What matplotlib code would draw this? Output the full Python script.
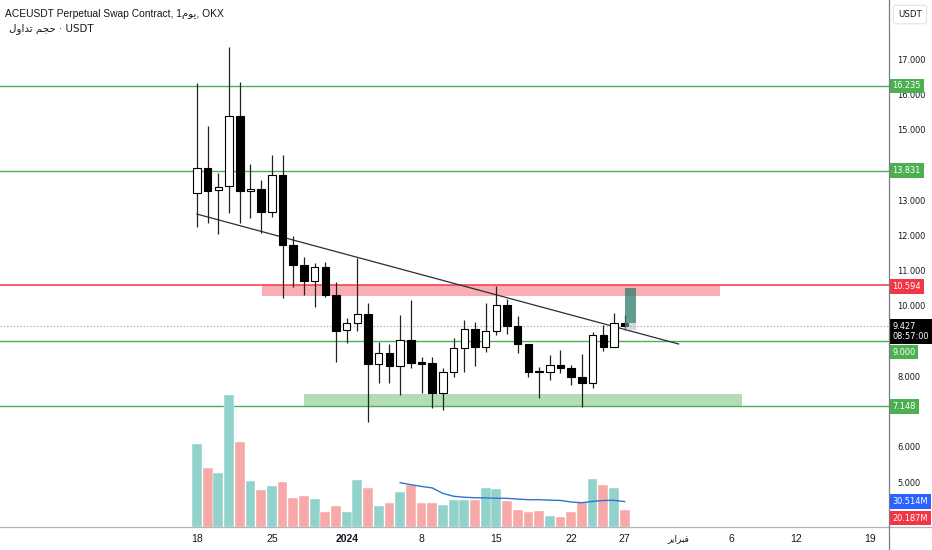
import numpy as np
import matplotlib
matplotlib.use("Agg")
import matplotlib.pyplot as plt
from matplotlib.lines import Line2D
from matplotlib.patches import Rectangle
from matplotlib import font_manager

# pick a narrow face for the price scale, like the TradingView screenshot
names = {(f.name, f.stretch) for f in font_manager.fontManager.ttflist}
fam_names = {n for n, s in names}
if 'Liberation Sans Narrow' in fam_names:
    NARROW = dict(family=['Liberation Sans Narrow', 'DejaVu Sans'], size=7.2)
elif ('DejaVu Sans', 'condensed') in names:
    NARROW = dict(family=['DejaVu Sans'], stretch='condensed', size=6.6)
else:
    NARROW = dict(family=['Liberation Sans', 'DejaVu Sans'], size=6.2)

plt.rcParams['font.family'] = ['Liberation Sans', 'DejaVu Sans']

# daily candles, 18 Dec 2023 -> 27 Jan 2024 (index 0 = 18 Dec)
opens = [13.19, 13.90, 13.28, 13.40, 15.38, 13.26, 13.31, 12.65, 13.71, 11.72,
         11.16, 10.71, 11.09, 10.30, 9.31, 9.52, 9.77, 8.34, 8.67, 8.29,
         9.03, 8.38, 8.37, 7.52, 8.13, 8.81, 9.33, 8.82, 9.28, 10.02,
         9.43, 8.91, 8.13, 8.13, 8.33, 8.23, 7.99, 7.80, 9.17, 8.82, 9.52]
highs = [16.31, 15.10, 13.76, 17.33, 16.36, 14.02, 13.57, 14.28, 14.28, 11.98,
         11.39, 11.20, 11.25, 10.68, 9.64, 11.35, 10.07, 8.98, 8.91, 9.74,
         10.16, 8.54, 8.54, 8.23, 9.08, 9.60, 9.55, 10.07, 10.56, 10.18,
         9.71, 8.91, 8.27, 8.60, 8.74, 8.32, 8.62, 9.26, 9.45, 9.79, 9.74]
lows = [12.24, 12.36, 12.03, 12.62, 12.36, 12.48, 12.06, 12.53, 10.21, 10.54,
        10.30, 9.97, 10.26, 8.41, 8.93, 9.29, 6.71, 7.82, 7.80, 7.47,
        8.23, 7.53, 7.09, 7.04, 7.99, 8.13, 8.30, 8.70, 9.17, 9.19,
        8.67, 7.97, 7.37, 7.89, 8.08, 7.75, 7.14, 7.66, 8.73, 8.82, 9.31]
closes = [13.90, 13.26, 13.38, 15.38, 13.26, 13.31, 12.65, 13.71, 11.72, 11.16,
          10.71, 11.09, 10.30, 9.29, 9.50, 9.77, 8.34, 8.67, 8.29, 9.03,
          8.38, 8.36, 7.52, 8.13, 8.81, 9.33, 8.82, 9.28, 10.02, 9.43,
          8.91, 8.13, 8.11, 8.32, 8.24, 7.99, 7.80, 9.17, 8.82, 9.52, 9.427]
# volume in millions USDT
volumes = [100.1, 71.0, 64.9, 160.0, 102.5, 55.5, 44.6, 49.8, 54.3, 34.5,
           37.3, 33.7, 18.2, 25.5, 18.2, 56.7, 46.7, 25.5, 28.4, 42.5,
           50.7, 29.2, 29.2, 26.4, 32.4, 32.1, 32.4, 46.7, 45.8, 31.2,
           20.3, 17.9, 19.1, 13.0, 12.2, 17.9, 29.6, 57.6, 50.7, 46.7, 20.187]

green_levels = [16.235, 13.831, 9.000, 7.148]
red_level = 10.594
last_price = 9.427
resist_zone = (6.1, 48.9, 10.29, 10.594)
support_zone = (10.0, 51.0, 7.148, 7.49)
trend = ([0, 45.05], [12.60, 8.915])
long_pos = (40.04, 41.04, 9.50, 10.51, 9.31)

price_ticks = [5, 6, 8, 10, 11, 12, 13, 15, 16, 17]
tick_pos = [0, 7, 14, 21, 28, 35, 40, 45, 50, 56, 63]
# Arabic written in visual order with presentation forms (no shaping in matplotlib)
feb = "\uFEAE\uFEF3\uFE8D\uFEAE\uFE92\uFED3"
tick_lab = ['18', '25', '2024', '8', '15', '22', '27', feb, '6', '12', '19']
yom = "\uFEE1\uFEEE\uFEF3"
vol_ar = "\uFEDD\uFEED\uFE8D\uFEAA\uFE97 \uFEE2\uFEA0\uFEA3"

UP_VOL = '#92d2cc'
DN_VOL = '#f7a9a7'
GREEN = '#4caf50'
RED = '#f23645'
TXT = '#131722'

W, H = 932, 550
fig = plt.figure(figsize=(W / 100, H / 100), dpi=100)
ax = fig.add_axes([0, 23.3 / H, 889 / W, 526.7 / H])
ax.set_xlim(-18.43, 64.73)
ax.set_ylim(3.732, 18.674)
for s in ax.spines.values():
    s.set_visible(False)

axv = ax.twinx()
axv.set_ylim(0, 526.7 * 1.215)
axv.set_yticks([])
for s in axv.spines.values():
    s.set_visible(False)

x = np.arange(len(opens))
o = np.array(opens); c = np.array(closes)
up = c >= o
vcol = [UP_VOL if u else DN_VOL for u in up]
axv.bar(x, volumes, width=0.92, color=vcol, edgecolor='white', linewidth=0.3, zorder=1)
ma = np.convolve(volumes, np.ones(20) / 20, mode='valid')
axv.plot(x[19:], ma, color='#2f74d0', lw=1, zorder=2)

# zones
ax.add_patch(Rectangle((resist_zone[0], resist_zone[2]), resist_zone[1] - resist_zone[0],
                       resist_zone[3] - resist_zone[2], facecolor=RED, alpha=0.4,
                       edgecolor='none', zorder=1))
ax.add_patch(Rectangle((support_zone[0], support_zone[2]), support_zone[1] - support_zone[0],
                       support_zone[3] - support_zone[2], facecolor=GREEN, alpha=0.42,
                       edgecolor='none', zorder=1))

for lv in green_levels:
    ax.axhline(lv, color=GREEN, lw=1, zorder=2)
ax.axhline(red_level, color=RED, lw=1.1, zorder=2)
ax.axhline(last_price, color='#9598a1', lw=0.8, ls=(0, (1, 2)), zorder=2)

ax.plot(trend[0], trend[1], color='#2a2e39', lw=0.9, zorder=4)

# candles
ax.vlines(x, lows, highs, color='#222222', lw=0.9, zorder=5)
body_lo = np.minimum(o, c)
body_h = np.maximum(np.abs(c - o), 0.04)
ax.bar(x, body_h, bottom=body_lo, width=0.7, color=['white' if u else 'black' for u in up],
       edgecolor='black', linewidth=0.8, zorder=6)

# long position tool
ax.add_patch(Rectangle((long_pos[0], long_pos[2]), long_pos[1] - long_pos[0],
                       long_pos[3] - long_pos[2], facecolor='#2e7d68', alpha=0.75,
                       edgecolor='none', zorder=7))
ax.add_patch(Rectangle((long_pos[0], long_pos[4]), long_pos[1] - long_pos[0],
                       long_pos[2] - long_pos[4], facecolor='#b2b5be', alpha=0.5,
                       edgecolor='none', zorder=7))

# axes ticks
ax.yaxis.tick_right()
ax.set_yticks(price_ticks)
ax.set_yticklabels([f"{v:.3f}" for v in price_ticks])
ax.tick_params(axis='y', length=0, pad=6, labelcolor=TXT)
for t in ax.get_yticklabels():
    t.set_fontfamily(NARROW['family'])
    t.set_fontsize(NARROW['size'])
    if 'stretch' in NARROW:
        t.set_fontstretch(NARROW['stretch'])
ax.set_xticks(tick_pos)
ax.set_xticklabels(tick_lab)
ax.tick_params(axis='x', length=0, pad=5, labelsize=7.5, labelcolor=TXT)
ax.get_xticklabels()[2].set_fontweight('bold')
ax.get_xticklabels()[7].set_fontfamily(['DejaVu Sans'])
ax.get_xticklabels()[7].set_fontsize(6.5)


def price_label(val, txt, fc, dy=0, tc='white', axis=ax):
    kw = dict(NARROW)
    axis.annotate(txt, xy=(1, val), xycoords=('axes fraction', 'data'),
                  xytext=(2.5, dy), textcoords='offset points', ha='left', va='center',
                  color=tc, annotation_clip=False, zorder=20,
                  fontfamily=kw['family'], fontsize=kw['size'],
                  fontstretch=kw.get('stretch', 'normal'), linespacing=1.25,
                  bbox=dict(boxstyle='square,pad=0.3', fc=fc, ec='none'))


price_label(16.235, '16.235', GREEN)
price_label(13.831, '13.831', GREEN)
price_label(10.594, '10.594', RED, dy=-1.2)
price_label(9.000, '9.000', GREEN, dy=-8)
price_label(7.148, '7.148', GREEN)
price_label(last_price, '9.427\n08:57:00', 'black', dy=-4)
price_label(ma[-1], '30.514M', '#2962ff', axis=axv)
price_label(volumes[-1], '20.187M', RED, dy=-5.8, axis=axv)

fig.add_artist(Line2D([0, 1], [23.3 / H, 23.3 / H], color='#b2b5be', lw=0.9))
fig.add_artist(Line2D([889 / W, 889 / W], [0, 1], color='#787b86', lw=0.9))

fig.text(5 / W, 1 - 14 / H, "ACEUSDT Perpetual Swap Contract, 1" + yom + ", OKX",
         fontsize=7.4, color=TXT, va='center', ha='left',
         family=['Liberation Sans', 'DejaVu Sans'])
fig.text(9 / W, 1 - 29 / H, vol_ar + " \u00b7 USDT", fontsize=7.4, color=TXT,
         va='center', ha='left', family=['DejaVu Sans'])
fig.text(910 / W, 1 - 14.5 / H, "USDT", color=TXT, ha='center', va='center',
         fontfamily=NARROW['family'], fontsize=NARROW['size'] - 0.4,
         bbox=dict(boxstyle='round,pad=0.55,rounding_size=0.3', fc='white', ec='#e0e3eb', lw=0.8))

fig.savefig('out.png', dpi=100)
